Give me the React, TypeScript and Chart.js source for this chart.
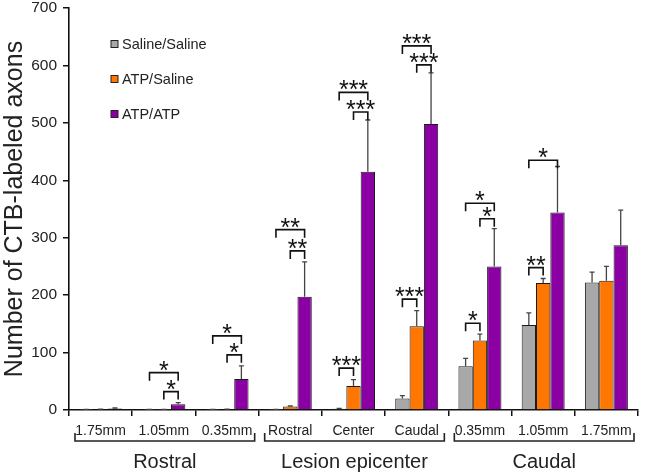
import React, { useEffect, useRef } from 'react';
import { Chart, registerables } from 'chart.js';
Chart.register(...registerables);

const categories = ['1.75mm', '1.05mm', '0.35mm', 'Rostral', 'Center', 'Caudal', '0.35mm', '1.05mm', '1.75mm'];
const seriesNames = ['Saline/Saline', 'ATP/Saline', 'ATP/ATP'];
const seriesColors = ['#a8a8a8', '#ff7700', '#8a00a2'];

const salineSaline = [0.5, 0.5, 0.5, 0.5, 2, 20, 76, 148, 222];
const atpSaline = [1, 0.5, 1, 6, 42, 146, 121, 221, 225];
const atpAtp = [2.5, 10, 54, 197, 415, 498, 250, 344, 287];

const salineSalineErr = [0.5, 0.5, 0.5, 0.5, 1, 5, 14, 21, 18];
const atpSalineErr = [0.5, 0.5, 0.5, 1, 11, 27, 11, 8, 25];
const atpAtpErr = [1, 3, 23, 61, 90, 89, 66, 80, 61];

const yTicks = [0, 100, 200, 300, 400, 500, 600, 700];

const groupLabels = ['Rostral', 'Lesion epicenter', 'Caudal'];
const groupFirst = [0, 3, 6];
const groupLast = [2, 5, 8];

// significance brackets: category index, from series, to series, y (data units), label
const sigCat = [1, 1, 2, 2, 3, 3, 4, 4, 4, 5, 5, 5, 6, 6, 6, 7, 7];
const sigFrom = [1, 0, 1, 0, 1, 0, 0, 1, 0, 0, 1, 0, 0, 1, 0, 0, 0];
const sigTo = [2, 2, 2, 2, 2, 2, 1, 2, 2, 1, 2, 2, 1, 2, 2, 1, 2];
const sigY = [32, 65, 96, 129, 277, 314, 73, 519, 553, 193, 601, 634, 151, 333, 360, 248, 435];
const sigLabel = ['*', '*', '*', '*', '**', '**', '***', '***', '***', '***', '***', '***', '*', '*', '*', '**', '*'];

const FONT = 'Arial, "Liberation Sans", sans-serif';

const overlayPlugin = {
  id: 'overlay',
  afterDatasetsDraw(chart: any) {
    const ctx = chart.ctx;
    const y = chart.scales.y;
    const errs = [salineSaline, atpSaline, atpAtp];
    const errVals = [salineSalineErr, atpSalineErr, atpAtpErr];
    ctx.save();
    // error bars
    ctx.strokeStyle = '#444';
    ctx.lineWidth = 1.3;
    for (let d = 0; d < 3; d++) {
      const meta = chart.getDatasetMeta(d);
      meta.data.forEach((el: any, j: number) => {
        const top = y.getPixelForValue(errs[d][j] + errVals[d][j]);
        ctx.beginPath();
        ctx.moveTo(el.x, el.y);
        ctx.lineTo(el.x, top);
        ctx.moveTo(el.x - 2.5, top);
        ctx.lineTo(el.x + 2.5, top);
        ctx.stroke();
      });
    }
    // significance brackets
    ctx.strokeStyle = '#111';
    ctx.fillStyle = '#111';
    ctx.lineWidth = 1.6;
    ctx.font = `25px ${FONT}`;
    ctx.textAlign = 'center';
    ctx.textBaseline = 'alphabetic';
    for (let i = 0; i < sigCat.length; i++) {
      const x1 = chart.getDatasetMeta(sigFrom[i]).data[sigCat[i]].x;
      const x2 = chart.getDatasetMeta(sigTo[i]).data[sigCat[i]].x;
      const py = y.getPixelForValue(sigY[i]);
      ctx.beginPath();
      ctx.moveTo(x1, py + 8);
      ctx.lineTo(x1, py);
      ctx.lineTo(x2, py);
      ctx.lineTo(x2, py + 8);
      ctx.stroke();
      const m = ctx.measureText(sigLabel[i]);
      const desc = m.actualBoundingBoxDescent || -10;
      ctx.fillText(sigLabel[i], (x1 + x2) / 2, py - 2 - desc);
    }
    ctx.restore();
  },
  afterDraw(chart: any) {
    const ctx = chart.ctx;
    const x = chart.scales.x;
    ctx.save();
    // group brackets and labels
    ctx.strokeStyle = '#222';
    ctx.lineWidth = 1.6;
    ctx.fillStyle = '#222';
    ctx.font = `20px ${FONT}`;
    ctx.textAlign = 'center';
    ctx.textBaseline = 'alphabetic';
    const half = (x.getPixelForValue(1) - x.getPixelForValue(0)) / 2;
    for (let g = 0; g < groupLabels.length; g++) {
      const a = x.getPixelForValue(groupFirst[g]) - half + 6;
      const b = x.getPixelForValue(groupLast[g]) + half - 4;
      const by = 441;
      ctx.beginPath();
      ctx.moveTo(a, by - 8);
      ctx.lineTo(a, by);
      ctx.lineTo(b, by);
      ctx.lineTo(b, by - 8);
      ctx.stroke();
      ctx.fillText(groupLabels[g], (a + b) / 2, 468);
    }
    // legend
    ctx.font = `14.5px ${FONT}`;
    ctx.textAlign = 'left';
    ctx.textBaseline = 'middle';
    const ly = [44, 79, 114];
    for (let i = 0; i < 3; i++) {
      ctx.fillStyle = seriesColors[i];
      ctx.fillRect(111, ly[i] - 3.5, 7, 7);
      ctx.strokeStyle = '#222';
      ctx.lineWidth = 1;
      ctx.strokeRect(111, ly[i] - 3.5, 7, 7);
      ctx.fillStyle = '#222';
      ctx.fillText(seriesNames[i], 122, ly[i] + 1);
    }
    ctx.restore();
  },
};

export default function App() {
  const ref = useRef<HTMLCanvasElement>(null);
  useEffect(() => {
    const canvas = ref.current!;
    const vals = [salineSaline, atpSaline, atpAtp];
    const chart = new Chart(canvas, {
      type: 'bar',
      data: {
        labels: categories,
        datasets: seriesNames.map((n, i) => ({
          label: n,
          data: vals[i],
          backgroundColor: seriesColors[i],
          borderColor: '#1a1a1a',
          borderWidth: 1,
          categoryPercentage: 0.68,
          barPercentage: 1.0,
        })),
      },
      options: {
        responsive: false,
        animation: false,
        layout: { padding: { left: 0, top: 8, right: 12, bottom: 0 } },
        plugins: { legend: { display: false }, tooltip: { enabled: false } },
        scales: {
          x: {
            grid: { display: true, drawOnChartArea: false, color: '#111', tickLength: 6, lineWidth: 1.5, offset: true },
            border: { display: true, color: '#111', width: 1.6 },
            ticks: { color: '#222', font: { family: FONT, size: 14 }, padding: 7, maxRotation: 0, autoSkip: false },
            afterFit: (s: any) => { s.height = 64; s.paddingLeft = 0; s.paddingRight = 0; },
          },
          y: {
            min: 0,
            max: 700,
            afterBuildTicks: (s: any) => { s.ticks = yTicks.map((v) => ({ value: v })); },
            grid: { display: true, drawOnChartArea: false, color: '#111', tickLength: 6, lineWidth: 1.5 },
            border: { display: true, color: '#111', width: 1.6 },
            ticks: { color: '#222', font: { family: FONT, size: 15.5 }, padding: 6 },
            title: { display: true, text: 'Number of CTB-labeled axons', color: '#222', font: { family: FONT, size: 25 }, padding: { top: 0, bottom: 2 } },
            afterFit: (s: any) => { s.width = 69; s.paddingTop = 0; s.paddingBottom = 0; },
          },
        },
      },
      plugins: [overlayPlugin],
    });
    return () => chart.destroy();
  }, []);
  return (
    <div style={{ position: 'absolute', left: 0, top: 0, width: 650, height: 474, background: '#fff' }}>
      <canvas ref={ref} width={650} height={474} />
    </div>
  );
}
